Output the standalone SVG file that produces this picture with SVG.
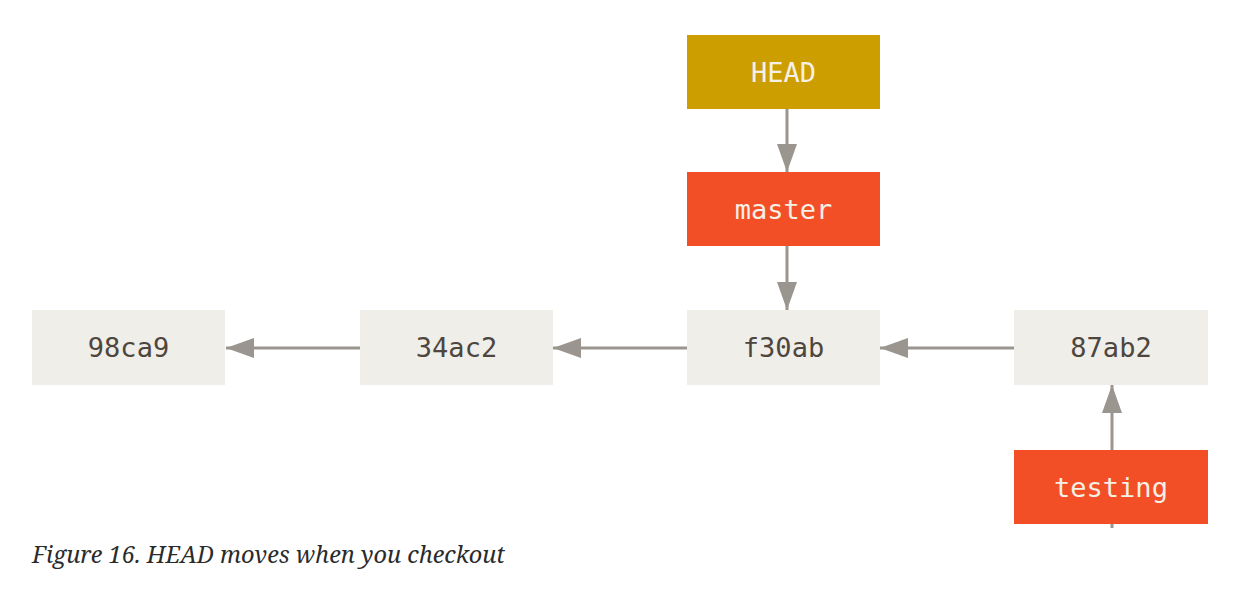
<svg xmlns="http://www.w3.org/2000/svg" width="1249" height="591" viewBox="0 0 1249 591">
<defs>
<style>
.box{stroke:none}
.commit{fill:#efeee8}
.branch{fill:#f34f27}
.head{fill:#cc9e00}
.lbl{font-family:"DejaVu Sans Mono",monospace;font-size:27px;text-anchor:middle}
.dark{fill:#4e463e}
.light{fill:#f5efe6}
.edge{stroke:#9a958e;stroke-width:3;fill:none}
.cap{font-family:"Noto Serif","DejaVu Serif",serif;font-style:italic;font-size:24px;fill:#2b2b2b}
</style>
<marker id="ah" viewBox="0 0 28 20" refX="28" refY="10" markerWidth="28" markerHeight="20" markerUnits="userSpaceOnUse" orient="auto">
<path d="M0,0 L28,10 L0,20 Z" fill="#9a958e"/>
</marker>
</defs>
<rect width="1249" height="591" fill="#ffffff"/>
<g id="connectors">
<line class="edge" x1="787" y1="109" x2="787" y2="172" marker-end="url(#ah)"/>
<line class="edge" x1="787" y1="246" x2="787" y2="310" marker-end="url(#ah)"/>
<line class="edge" x1="360" y1="348" x2="226" y2="348" marker-end="url(#ah)"/>
<line class="edge" x1="687" y1="348" x2="553" y2="348" marker-end="url(#ah)"/>
<line class="edge" x1="1014" y1="348" x2="880" y2="348" marker-end="url(#ah)"/>
<line class="edge" x1="1112" y1="450" x2="1112" y2="385" marker-end="url(#ah)"/>
<line class="edge" x1="1112" y1="524" x2="1112" y2="528"/>
</g>
<g id="HEAD">
<rect class="box head" x="687" y="35" width="193" height="74"/>
<text class="lbl light" x="783.5" y="82">HEAD</text>
</g>
<g id="master">
<rect class="box branch" x="687" y="172" width="193" height="74"/>
<text class="lbl light" x="783.5" y="219">master</text>
</g>
<g id="c98ca9">
<rect class="box commit" x="32" y="310" width="193" height="75"/>
<text class="lbl dark" x="128.5" y="357">98ca9</text>
</g>
<g id="c34ac2">
<rect class="box commit" x="360" y="310" width="193" height="75"/>
<text class="lbl dark" x="456.5" y="357">34ac2</text>
</g>
<g id="cf30ab">
<rect class="box commit" x="687" y="310" width="193" height="75"/>
<text class="lbl dark" x="783.5" y="357">f30ab</text>
</g>
<g id="c87ab2">
<rect class="box commit" x="1014" y="310" width="194" height="75"/>
<text class="lbl dark" x="1111" y="357">87ab2</text>
</g>
<g id="testing">
<rect class="box branch" x="1014" y="450" width="194" height="74"/>
<text class="lbl light" x="1111" y="497">testing</text>
</g>
<text class="cap" x="32" y="563" textLength="473" lengthAdjust="spacingAndGlyphs">Figure 16. HEAD moves when you checkout</text>
</svg>
